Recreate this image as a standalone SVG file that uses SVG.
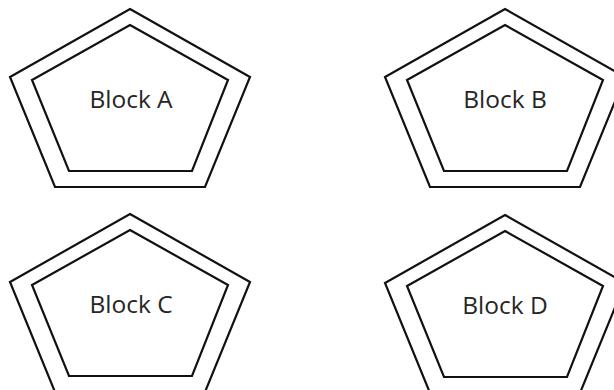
<svg xmlns="http://www.w3.org/2000/svg" xmlns:xlink="http://www.w3.org/1999/xlink" width="614" height="390" viewBox="0 0 614 390">
  <style>
    .shape { fill: none; stroke: #111111; stroke-width: 2.2; stroke-linejoin: miter; }
    .label { font-family: "Open Sans", "Liberation Sans", sans-serif; font-size: 24.5px; fill: #262626; text-anchor: middle; }
  </style>
  <defs>
    <polygon id="outer" class="shape" points="0,0 120,68 75,178 -75,178 -120,68"/>
    <polygon id="inner" class="shape" points="0,16 98,71 62,162 -61,162 -98,71"/>
  </defs>
  <rect width="614" height="390" fill="#ffffff"/>
  <g id="connectors"></g>
  <g id="blockA" transform="translate(130,9)">
    <use xlink:href="#outer" href="#outer"/>
    <use xlink:href="#inner" href="#inner"/>
    <text class="label" x="1" y="99">Block A</text>
  </g>
  <g id="blockB" transform="translate(505,9)">
    <use xlink:href="#outer" href="#outer"/>
    <use xlink:href="#inner" href="#inner"/>
    <text class="label" x="0" y="99">Block B</text>
  </g>
  <g id="blockC" transform="translate(130,214)">
    <use xlink:href="#outer" href="#outer"/>
    <use xlink:href="#inner" href="#inner"/>
    <text class="label" x="1" y="99">Block C</text>
  </g>
  <g id="blockD" transform="translate(505,215)">
    <use xlink:href="#outer" href="#outer"/>
    <use xlink:href="#inner" href="#inner"/>
    <text class="label" x="0" y="99">Block D</text>
  </g>
</svg>
